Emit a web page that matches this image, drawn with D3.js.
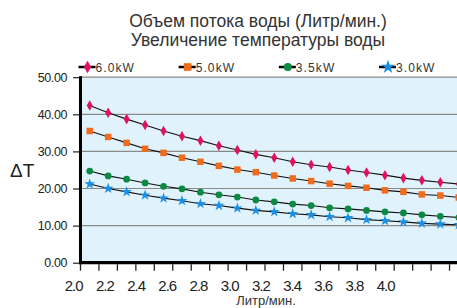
<!DOCTYPE html>
<html><head><meta charset="utf-8">
<script src="https://cdn.jsdelivr.net/npm/d3@7"></script>
<style>
html,body{margin:0;padding:0;background:#fff;}
svg{display:block;font-family:Arial,"Liberation Sans",sans-serif;}
</style></head>
<body><svg id="c" width="457" height="308"></svg>
<script>
const titleLines = ["Объем потока воды (Литр/мин.)", "Увеличение температуры воды"];
const xTitle = "Литр/мин.";
const yTitle = "ΔT";
const categories = ["2.0","2.1","2.2","2.3","2.4","2.5","2.6","2.7","2.8","2.9","3.0","3.1","3.2","3.3","3.4","3.5","3.6","3.7","3.8","3.9","4.0"];
const xTickLabels = ["2.0","2.2","2.4","2.6","2.8","3.0","3.2","3.4","3.6","3.8","4.0"];
const yTicks = [0,10,20,30,40,50];
const seriesNames = ["6.0kW","5.0kW","3.5kW","3.0kW"];
const s60 = [42.4,40.4,38.7,37.1,35.5,34.1,32.9,31.5,30.4,29.2,28.3,27.2,26.4,25.8,25.0,24.3,23.6,22.8,22.2,21.7,21.2];
const s50 = [35.5,33.9,32.3,30.7,29.6,28.3,27.2,26.1,25.1,24.4,23.5,22.7,22.0,21.3,20.7,20.2,19.5,19.1,18.4,18.1,17.6];
const s35 = [24.7,23.4,22.5,21.5,20.6,19.9,19.0,18.3,17.7,16.9,16.4,15.8,15.4,14.8,14.5,14.1,13.7,13.4,12.9,12.5,12.2];
const s30 = [21.2,20.0,19.1,18.2,17.4,16.7,15.9,15.4,14.7,14.1,13.7,13.2,12.9,12.4,12.1,11.6,11.3,11.0,10.6,10.4,10.2];

const seriesData = [s60, s50, s35, s30];
const colors = ["#e0115f","#f26a1b","#0b8a43","#1a8fe3"];
const shapes = [d3.symbolDiamond, d3.symbolSquare, d3.symbolCircle, d3.symbolStar];
const sizes = [32, 42, 36, 36];
const legendSizes = [46, 58, 52, 60];

const svg = d3.select("#c");
const L = 80.5, T = 77.2, B = 262.7, R = 468;

const x = d3.scaleBand().domain(categories).range([L, R]).padding(0);
const xLab = d3.scalePoint().domain(xTickLabels).range([73.7, 385.7]);
const y = d3.scaleLinear().domain([0,50]).range([B, T]);

svg.append("rect").attr("x", L).attr("y", T).attr("width", R - L).attr("height", B - T).attr("fill", "#e0f2fb");

svg.append("g").selectAll("line").data(yTicks.filter(d => d > 0)).join("line")
  .attr("x1", L).attr("x2", R).attr("y1", d => y(d)).attr("y2", d => y(d))
  .attr("stroke", "#8a8a8a").attr("stroke-width", 1.2);

const yAxis = d3.axisLeft(y).tickValues(yTicks).tickFormat(d3.format(".2f")).tickSize(7).tickPadding(6);
const gy = svg.append("g").attr("transform", `translate(${L - 0.5},0)`).call(yAxis);
gy.select(".domain").remove();
gy.selectAll(".tick line").attr("stroke", "#222").attr("stroke-width", 1.2);
gy.selectAll(".tick text").attr("fill", "#222").style("font-size", "12.5px").attr("letter-spacing", "-0.4");

const bounds = categories.map(c => x(c)).concat([x(categories[categories.length-1]) + x.bandwidth()]);
svg.append("g").selectAll("line").data(bounds).join("line")
  .attr("x1", d => d).attr("x2", d => d).attr("y1", B + 1.5).attr("y2", B + 8)
  .attr("stroke", "#222").attr("stroke-width", 1.3);

svg.append("g").selectAll("text").data(xTickLabels).join("text")
  .attr("x", d => xLab(d)).attr("y", 291).attr("text-anchor", "middle")
  .attr("fill", "#222").style("font-size", "15px").attr("letter-spacing", "-1")
  .text(d => d);

svg.append("line").attr("x1", L).attr("x2", L).attr("y1", T - 1).attr("y2", B + 1.5).attr("stroke", "#000").attr("stroke-width", 3);
svg.append("line").attr("x1", L - 1.5).attr("x2", R).attr("y1", B).attr("y2", B).attr("stroke", "#000").attr("stroke-width", 3.2);

const cx = c => x(c) + x.bandwidth() / 2;
const line = d3.line().x((d, i) => cx(categories[i])).y(d => y(d));
seriesData.forEach((s, k) => {
  svg.append("path").datum(s).attr("d", line).attr("fill", "none").attr("stroke", "#111").attr("stroke-width", 1.1);
  svg.append("g").selectAll("path").data(s).join("path")
    .attr("transform", (d, i) => `translate(${cx(categories[i])},${y(d)})`)
    .attr("d", d3.symbol().type(shapes[k]).size(sizes[k]))
    .attr("fill", colors[k]);
});

const legX = d3.scalePoint().domain(seriesNames).range([87.5, 388]);
const lg = svg.append("g").selectAll("g").data(seriesNames).join("g")
  .attr("transform", d => `translate(${legX(d)},67)`);
lg.append("line").attr("x1", -9).attr("x2", 8).attr("y1", 0).attr("y2", 0).attr("stroke", "#000").attr("stroke-width", 2.5);
lg.append("path").attr("d", (d, i) => d3.symbol().type(shapes[i]).size(legendSizes[i])())
  .attr("fill", (d, i) => colors[i]);
lg.append("text").attr("x", 8).attr("y", 4.5).attr("fill", "#333")
  .style("font-size", "12px").attr("letter-spacing", "1.1").text(d => d);

svg.append("g").selectAll("text").data(titleLines).join("text")
  .attr("x", 258).attr("y", (d, i) => 27 + i * 19).attr("text-anchor", "middle")
  .attr("fill", "#333").style("font-size", "17.5px").text(d => d);

svg.append("text").attr("x", 10).attr("y", 177).attr("fill", "#222").style("font-size", "19px").text(yTitle);
svg.append("text").attr("x", 266).attr("y", 305).attr("text-anchor", "middle").attr("fill", "#333").style("font-size", "13px").text(xTitle);
</script></body></html>
